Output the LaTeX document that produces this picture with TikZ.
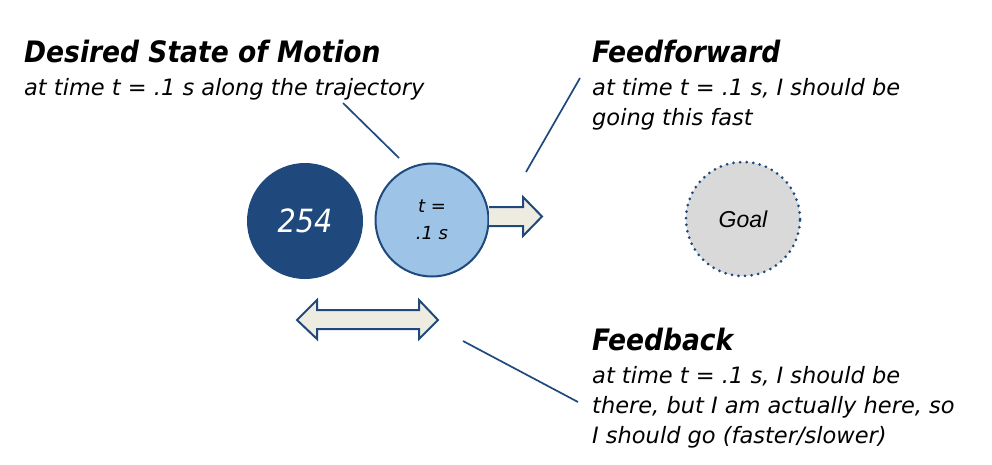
\documentclass[tikz,border=0pt]{standalone}
\usepackage{fontspec}
\setmainfont{DejaVu Sans Condensed}
\newfontfamily\notefont{DejaVu Sans}
\newfontfamily\goalfont{Liberation Sans}
\usetikzlibrary{calc}
\definecolor{navy}{HTML}{1F497D}
\definecolor{skyblue}{HTML}{9DC3E6}
\definecolor{paper}{HTML}{EEECE1}
\definecolor{goalgray}{HTML}{D9D9D9}
\tikzset{
  title/.style = {anchor=base west, inner sep=0pt, font=\fontsize{29.5}{30}\selectfont\bfseries\itshape},
  note/.style  = {anchor=base west, inner sep=0pt, font=\notefont\fontsize{22.5}{30}\selectfont\itshape},
  pointer/.style = {draw=navy, line width=1.7pt},
  blockarrow/.style = {draw=navy, fill=paper, line width=2pt, line join=miter}
}
\begin{document}
\begin{tikzpicture}[x=1pt, y=-1pt]
      \useasboundingbox (0,0) rectangle (992,464);
      % robot, desired state and goal
      \node [circle, fill=navy, minimum size=116pt, inner sep=0pt, text=white,
             font=\fontsize{32}{32}\selectfont\itshape] (robot) at (305,221) {254};
      \node [circle, draw=navy, line width=2pt, fill=skyblue, minimum size=113pt, inner sep=0pt,
             align=center, font=\notefont\fontsize{18}{27}\selectfont\itshape] (desired) at (432,220) {t =\\.1 s};
      \node [circle, draw=navy, line width=3pt, dash pattern=on 0pt off 6.6pt, line cap=round,
             fill=goalgray, minimum size=114pt, inner sep=0pt,
             font=\goalfont\fontsize{23}{23}\selectfont\itshape] (goal) at (743,219) {Goal};
      % feedforward arrow
      \draw [blockarrow] (489,207) -- (523,207) -- (523,197) -- (542,216.5)
            -- (523,236) -- (523,226) -- (489,226);
      % feedback arrow
      \draw [blockarrow] (297,320) -- (317,300) -- (317,310) -- (419,310) -- (419,300)
            -- (438,320) -- (419,339) -- (419,329) -- (317,329) -- (317,339) -- cycle;
      % labels
      \node [title] (stateT) at (24,62) {Desired State of Motion};
      \node [note]  (stateN) at (24,95) {at time t = .1 s along the trajectory};
      \node [title] (ffT) at (592,62) {Feedforward};
      \node [note]  (ffN1) at (592,95) {at time t = .1 s, I should be};
      \node [note]  (ffN2) at (592,125) {going this fast};
      \node [title] (fbT) at (592,350) {Feedback};
      \node [note]  (fbN1) at (592,383) {at time t = .1 s, I should be};
      \node [note]  (fbN2) at (592,413) {there, but I am actually here, so};
      \node [note]  (fbN3) at (592,443) {I should go (faster/slower)};
      % pointers
      \coordinate (stateA) at (343,103);
      \coordinate (stateB) at (399,158);
      \coordinate (ffA) at (580,78);
      \coordinate (ffB) at (526,172);
      \coordinate (fbA) at (463,341);
      \coordinate (fbB) at (578,402);
      \draw [pointer] (stateA) -- (stateB);
      \draw [pointer] (ffA) -- (ffB);
      \draw [pointer] (fbA) -- (fbB);
    \end{tikzpicture}
\end{document}
